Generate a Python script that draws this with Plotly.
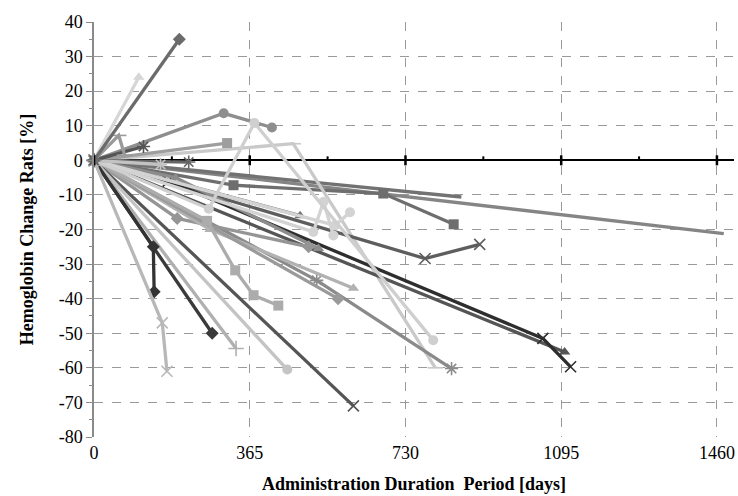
import plotly.graph_objects as go

# ---- data: (days, hemoglobin change %) per patient series ----
d01 = [0, 200];                 v01 = [0, 35]
d02 = [0, 105];                 v02 = [0, 24]
d03 = [0, 304, 417];            v03 = [0, 13.6, 9.5]
d04 = [0, 312];                 v04 = [0, 5]
d05 = [0, 467, 800];            v05 = [0, 4.8, -60]
d06 = [0, 58, 72];              v06 = [0, 7.2, 1.5]
d07 = [0, 116];                 v07 = [0, 4]
d08 = [0, 156];                 v08 = [0, -1.2]
d09 = [0, 222];                 v09 = [0, -0.5]
d10 = [0, 191, 526];            v10 = [0, -5, -25.5]
d11 = [0, 327, 678, 843];       v11 = [0, -7.2, -9.6, -18.5]
d12 = [0, 861];                 v12 = [0, -10.6]
d13 = [0, 1476];                v13 = [0, -21.2]
d14 = [0, 269, 376, 795];       v14 = [0, -14, 10.8, -52]
d15 = [0, 160, 171];            v15 = [0, -47, -61]
d16 = [0, 139, 141];            v16 = [0, -25, -38]
d17 = [0, 277];                 v17 = [0, -50]
d18 = [0, 333];                 v18 = [0, -54.4]
d19 = [0, 453];                 v19 = [0, -60.5]
d20 = [0, 265, 331, 374, 432];  v20 = [0, -17.5, -31.8, -39, -42]
d21 = [0, 608];                 v21 = [0, -71]
d22 = [0, 776, 904];            v22 = [0, -28.4, -24.3]
d23 = [0, 174, 1052, 1117];     v23 = [0, -6, -51.5, -59.7]
d24 = [0, 1103];                v24 = [0, -55.4]
d25 = [0, 522, 838];            v25 = [0, -34.7, -60.2]
d26 = [0, 514, 538, 561];       v26 = [0, -20.7, -12, -21.7]
d27 = [0, 565, 600];            v27 = [0, -18.8, -15]
d28 = [0, 483];                 v28 = [0, -16]
d29 = [0, 195, 503];            v29 = [0, -16.8, -25]
d30 = [0, 272, 608];            v30 = [0, -20, -37]
d31 = [0, 572];                 v31 = [0, -40]

x_ticks = [0, 365, 730, 1095, 1460]
y_ticks = [40, 30, 20, 10, 0, -10, -20, -30, -40, -50, -60, -70, -80]

# ---- styles (colour, marker symbol) ----
styles = [
    (d13, v13, "#858585", None),
    (d12, v12, "#727272", None),
    (d11, v11, "#6e6e6e", "square"),
    (d05, v05, "#c9c9c9", "line-ew-open"),
    (d04, v04, "#9e9e9e", "square"),
    (d03, v03, "#8e8e8e", "circle"),
    (d22, v22, "#5e5e5e", "x-thin-open"),
    (d24, v24, "#555555", "triangle-up"),
    (d23, v23, "#2e2e2e", "x-thin-open"),
    (d25, v25, "#8a8a8a", "asterisk-open"),
    (d28, v28, "#777777", "triangle-up"),
    (d10, v10, "#8c8c8c", "triangle-up"),
    (d29, v29, "#959595", "diamond"),
    (d30, v30, "#b2b2b2", "triangle-up"),
    (d31, v31, "#9a9a9a", "diamond"),
    (d21, v21, "#555555", "x-thin-open"),
    (d20, v20, "#acacac", "square"),
    (d19, v19, "#c4c4c4", "circle"),
    (d18, v18, "#b0b0b0", "cross-thin-open"),
    (d17, v17, "#3a3a3a", "diamond"),
    (d16, v16, "#333333", "diamond"),
    (d15, v15, "#b8b8b8", "x-thin-open"),
    (d26, v26, "#d3d3d3", "circle"),
    (d27, v27, "#d3d3d3", "circle"),
    (d14, v14, "#cfcfcf", "circle"),
    (d09, v09, "#666666", "asterisk-open"),
    (d08, v08, "#c2c2c2", "asterisk-open"),
    (d07, v07, "#555555", "asterisk-open"),
    (d06, v06, "#9a9a9a", "line-ew-open"),
    (d02, v02, "#d6d6d6", "triangle-up"),
    (d01, v01, "#6b6b6b", "diamond"),
]

fig = go.Figure()
for xs, ys, col, sym in styles:
    if sym is None:
        fig.add_trace(go.Scatter(x=xs, y=ys, mode="lines",
                                 line=dict(color=col, width=3.3),
                                 cliponaxis=False, hoverinfo="skip"))
    else:
        thin = sym.endswith("-open")
        fig.add_trace(go.Scatter(
            x=xs, y=ys, mode="lines+markers",
            line=dict(color=col, width=3.3),
            marker=dict(symbol=sym, size=11 if thin else 10, color=col,
                        line=dict(color=col, width=1.6 if thin else 0)),
            cliponaxis=False, hoverinfo="skip"))

# tick marks on the zero line (major at 365-day steps, minor halfway)
shapes = []
for i in range(0, 9):
    d = i * 182.5
    major = (i % 2 == 0)
    shapes.append(dict(type="line", xref="x", yref="y",
                       x0=d, x1=d, ysizemode="pixel", yanchor=0,
                       y0=-5 if major else 0, y1=5 if major else 4,
                       line=dict(color="black", width=2.5 if major else 2)))

font_family = "Liberation Serif"
fig.update_layout(
    width=738, height=496,
    margin=dict(l=93.5, r=3.5, t=22, b=59),
    paper_bgcolor="white", plot_bgcolor="white",
    showlegend=False,
    font=dict(family=font_family, size=18, color="black"),
    shapes=shapes,
    xaxis=dict(range=[0, 1500], tickvals=x_ticks, ticktext=[str(t) for t in x_ticks],
               automargin=False, ticklabelstandoff=3,
               showgrid=True, gridcolor="#9a9a9a", griddash="dash", gridwidth=1,
               zeroline=False, showline=False, ticks="",
               tickfont=dict(family=font_family, size=18, color="black"),
               title=dict(text="<b>Administration Duration  Period [days]</b>",
                          font=dict(family=font_family, size=18, color="black"), standoff=15)),
    yaxis=dict(range=[-80, 40], tickvals=y_ticks, ticktext=[str(t) for t in y_ticks],
               automargin=False,
               showgrid=True, gridcolor="#9a9a9a", griddash="dash", gridwidth=1,
               zeroline=True, zerolinecolor="black", zerolinewidth=2,
               showline=True, linecolor="#8a8a8a", linewidth=1.5,
               ticks="outside", ticklen=6, tickcolor="#8a8a8a",
               minor=dict(ticks="outside", ticklen=3, dtick=5, tickcolor="#8a8a8a", showgrid=False),
               tickfont=dict(family=font_family, size=18, color="black"),
               title=dict(text="<b>Hemoglobin Change Rats [%]</b>",
                          font=dict(family=font_family, size=18, color="black"), standoff=20)),
)

# remove the page's default body margin so the 738x496 figure fills the window
fig.write_html("out.html", config={"displayModeBar": False},
               post_script="document.body.style.margin='0';document.body.style.overflow='hidden';")
